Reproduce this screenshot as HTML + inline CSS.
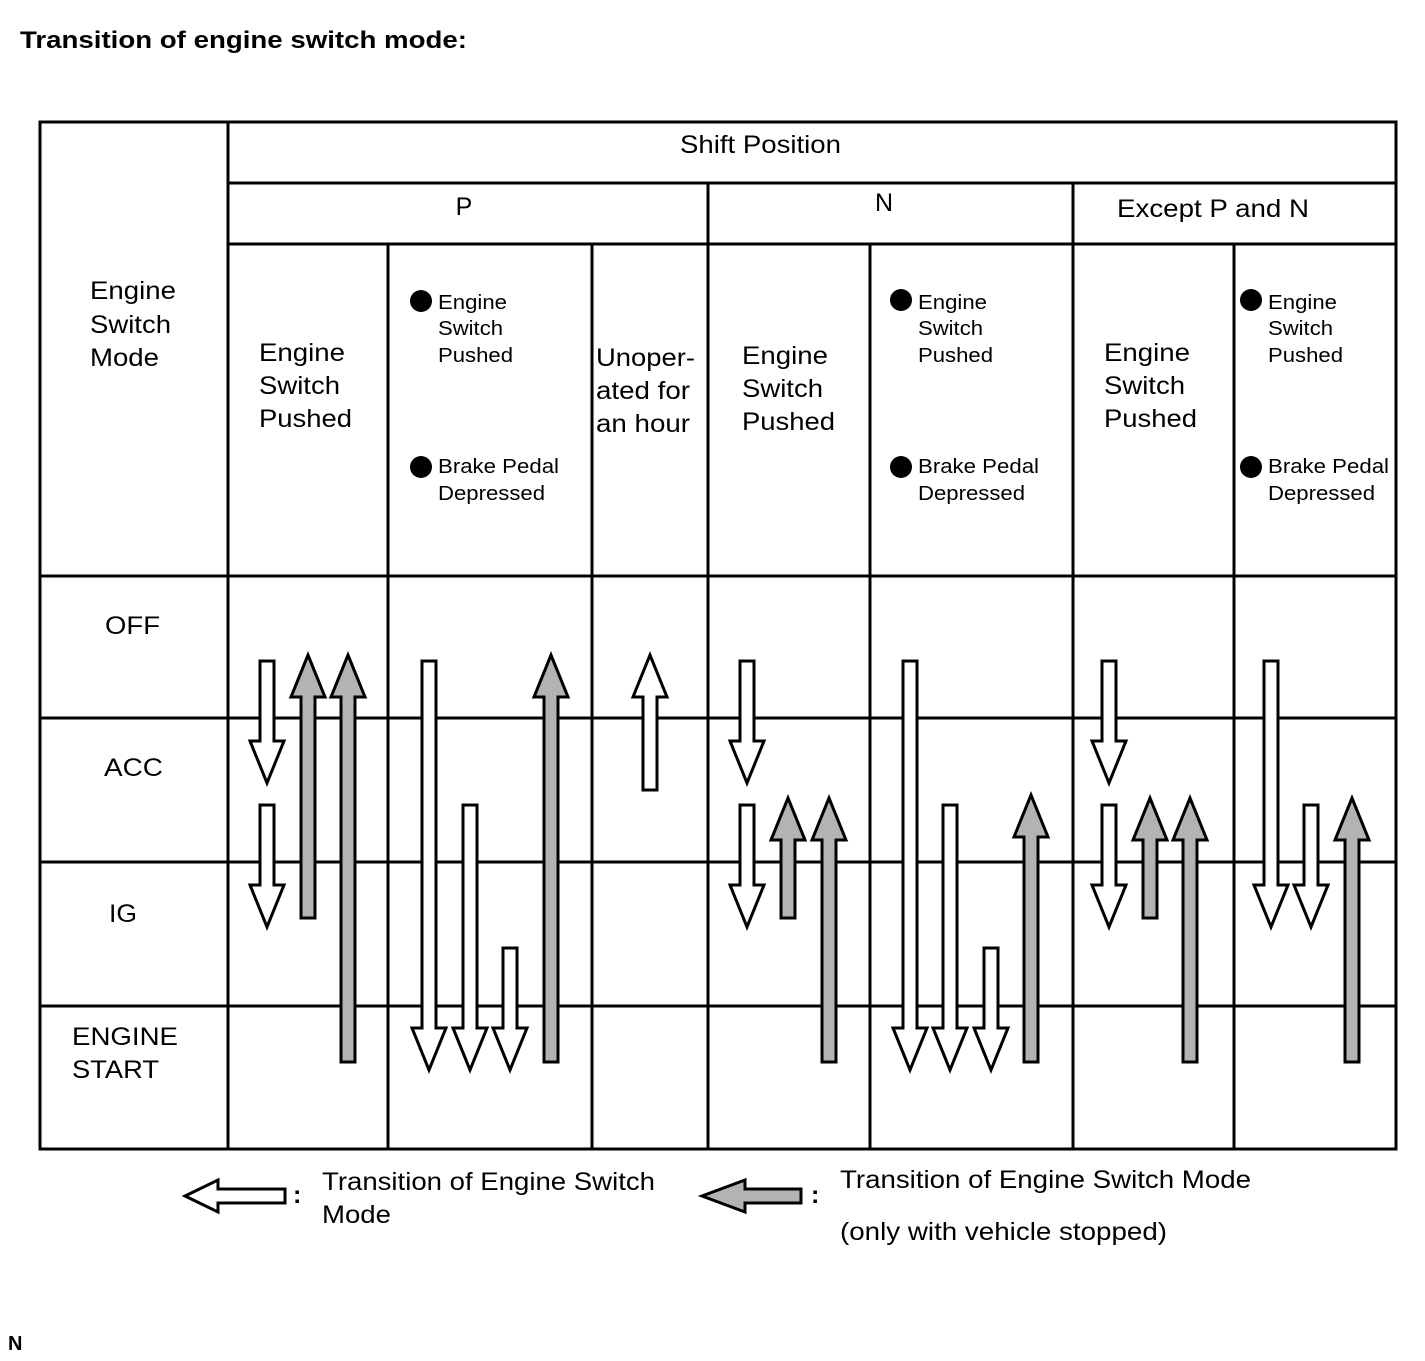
<!DOCTYPE html>
<html><head><meta charset="utf-8"><style>
html,body{margin:0;padding:0;background:#fff;}
svg{display:block;}
text{font-family:"Liberation Sans",Arial,sans-serif;fill:#000;}
.b{font-size:25px;}
.s{font-size:20px;}
</style></head><body>
<svg width="1425" height="1361" viewBox="0 0 1425 1361" xmlns="http://www.w3.org/2000/svg">
<text x="20" y="48" style="font-size:24px;font-weight:bold" textLength="447" lengthAdjust="spacingAndGlyphs">Transition of engine switch mode:</text>
<g stroke="#000" stroke-width="3" fill="none">
<rect x="40" y="122" width="1356" height="1027"/>
<line x1="228" y1="122" x2="228" y2="1149"/>
<line x1="228" y1="183" x2="1396" y2="183"/>
<line x1="228" y1="244" x2="1396" y2="244"/>
<line x1="708" y1="183" x2="708" y2="1149"/>
<line x1="1073" y1="183" x2="1073" y2="1149"/>
<line x1="388" y1="244" x2="388" y2="1149"/>
<line x1="592" y1="244" x2="592" y2="1149"/>
<line x1="870" y1="244" x2="870" y2="1149"/>
<line x1="1234" y1="244" x2="1234" y2="1149"/>
<line x1="40" y1="576" x2="1396" y2="576"/>
<line x1="40" y1="718" x2="1396" y2="718"/>
<line x1="40" y1="862" x2="1396" y2="862"/>
<line x1="40" y1="1006" x2="1396" y2="1006"/>
</g>
<g lengthAdjust="spacingAndGlyphs">
<text class="b" x="680" y="153" textLength="161" lengthAdjust="spacingAndGlyphs">Shift Position</text>
<text class="b" x="464" y="215" text-anchor="middle">P</text>
<text class="b" x="884" y="211" text-anchor="middle">N</text>
<text class="b" x="1117" y="217" textLength="192" lengthAdjust="spacingAndGlyphs">Except P and N</text>
<text class="b"><tspan x="90" y="299" textLength="86" lengthAdjust="spacingAndGlyphs">Engine</tspan><tspan x="90" y="333" textLength="81" lengthAdjust="spacingAndGlyphs">Switch</tspan><tspan x="90" y="366" textLength="69" lengthAdjust="spacingAndGlyphs">Mode</tspan></text>
<text class="b"><tspan x="259" y="361" textLength="86" lengthAdjust="spacingAndGlyphs">Engine</tspan><tspan x="259" y="394" textLength="81" lengthAdjust="spacingAndGlyphs">Switch</tspan><tspan x="259" y="427" textLength="93" lengthAdjust="spacingAndGlyphs">Pushed</tspan></text>
<text class="b"><tspan x="742" y="364" textLength="86" lengthAdjust="spacingAndGlyphs">Engine</tspan><tspan x="742" y="397" textLength="81" lengthAdjust="spacingAndGlyphs">Switch</tspan><tspan x="742" y="430" textLength="93" lengthAdjust="spacingAndGlyphs">Pushed</tspan></text>
<text class="b"><tspan x="1104" y="361" textLength="86" lengthAdjust="spacingAndGlyphs">Engine</tspan><tspan x="1104" y="394" textLength="81" lengthAdjust="spacingAndGlyphs">Switch</tspan><tspan x="1104" y="427" textLength="93" lengthAdjust="spacingAndGlyphs">Pushed</tspan></text>
<text class="b"><tspan x="596" y="366" textLength="99" lengthAdjust="spacingAndGlyphs">Unoper-</tspan><tspan x="596" y="399" textLength="94" lengthAdjust="spacingAndGlyphs">ated for</tspan><tspan x="596" y="432" textLength="94" lengthAdjust="spacingAndGlyphs">an hour</tspan></text>
</g>
<g>
<circle cx="421" cy="301" r="11"/><circle cx="421" cy="467" r="11"/>
<circle cx="901" cy="300" r="11"/><circle cx="901" cy="467" r="11"/>
<circle cx="1251" cy="300" r="11"/><circle cx="1251" cy="467" r="11"/>
</g>
<text class="s"><tspan x="438" y="309" textLength="69" lengthAdjust="spacingAndGlyphs">Engine</tspan><tspan x="438" y="335" textLength="65" lengthAdjust="spacingAndGlyphs">Switch</tspan><tspan x="438" y="362" textLength="75" lengthAdjust="spacingAndGlyphs">Pushed</tspan><tspan x="438" y="473" textLength="121" lengthAdjust="spacingAndGlyphs">Brake Pedal</tspan><tspan x="438" y="500" textLength="107" lengthAdjust="spacingAndGlyphs">Depressed</tspan></text>
<text class="s"><tspan x="918" y="309" textLength="69" lengthAdjust="spacingAndGlyphs">Engine</tspan><tspan x="918" y="335" textLength="65" lengthAdjust="spacingAndGlyphs">Switch</tspan><tspan x="918" y="362" textLength="75" lengthAdjust="spacingAndGlyphs">Pushed</tspan><tspan x="918" y="473" textLength="121" lengthAdjust="spacingAndGlyphs">Brake Pedal</tspan><tspan x="918" y="500" textLength="107" lengthAdjust="spacingAndGlyphs">Depressed</tspan></text>
<text class="s"><tspan x="1268" y="309" textLength="69" lengthAdjust="spacingAndGlyphs">Engine</tspan><tspan x="1268" y="335" textLength="65" lengthAdjust="spacingAndGlyphs">Switch</tspan><tspan x="1268" y="362" textLength="75" lengthAdjust="spacingAndGlyphs">Pushed</tspan><tspan x="1268" y="473" textLength="121" lengthAdjust="spacingAndGlyphs">Brake Pedal</tspan><tspan x="1268" y="500" textLength="107" lengthAdjust="spacingAndGlyphs">Depressed</tspan></text>
<text class="b" x="105" y="634" textLength="55" lengthAdjust="spacingAndGlyphs">OFF</text>
<text class="b" x="104" y="776" textLength="59" lengthAdjust="spacingAndGlyphs">ACC</text>
<text class="b" x="109" y="922" textLength="28" lengthAdjust="spacingAndGlyphs">IG</text>
<text class="b"><tspan x="72" y="1045" textLength="106" lengthAdjust="spacingAndGlyphs">ENGINE</tspan><tspan x="72" y="1078" textLength="87" lengthAdjust="spacingAndGlyphs">START</tspan></text>
<g stroke="#000" stroke-width="3" stroke-linejoin="miter">
<g fill="#fff">
<polygon points="260,661 274,661 274,741 284,741 267,783 250,741 260,741"/>
<polygon points="260,805 274,805 274,885 284,885 267,927 250,885 260,885"/>
<polygon points="422,661 436,661 436,1028 446,1028 429,1070 412,1028 422,1028"/>
<polygon points="463,805 477,805 477,1028 487,1028 470,1070 453,1028 463,1028"/>
<polygon points="503,948 517,948 517,1028 527,1028 510,1070 493,1028 503,1028"/>
<polygon points="643,790 657,790 657,697 667,697 650,655 633,697 643,697"/>
<polygon points="740,661 754,661 754,741 764,741 747,783 730,741 740,741"/>
<polygon points="740,805 754,805 754,885 764,885 747,927 730,885 740,885"/>
<polygon points="903,661 917,661 917,1028 927,1028 910,1070 893,1028 903,1028"/>
<polygon points="943,805 957,805 957,1028 967,1028 950,1070 933,1028 943,1028"/>
<polygon points="984,948 998,948 998,1028 1008,1028 991,1070 974,1028 984,1028"/>
<polygon points="1102,661 1116,661 1116,741 1126,741 1109,783 1092,741 1102,741"/>
<polygon points="1102,805 1116,805 1116,885 1126,885 1109,927 1092,885 1102,885"/>
<polygon points="1264,661 1278,661 1278,885 1288,885 1271,927 1254,885 1264,885"/>
<polygon points="1304,805 1318,805 1318,885 1328,885 1311,927 1294,885 1304,885"/>
<polygon points="285,1189 285,1203 218,1203 218,1212 185,1196 218,1180 218,1189"/>
</g>
<g fill="#b3b3b3">
<polygon points="301,918 315,918 315,697 325,697 308,655 291,697 301,697"/>
<polygon points="341,1062 355,1062 355,697 365,697 348,655 331,697 341,697"/>
<polygon points="544,1062 558,1062 558,697 568,697 551,655 534,697 544,697"/>
<polygon points="781,918 795,918 795,840 805,840 788,798 771,840 781,840"/>
<polygon points="822,1062 836,1062 836,840 846,840 829,798 812,840 822,840"/>
<polygon points="1024,1062 1038,1062 1038,837 1048,837 1031,795 1014,837 1024,837"/>
<polygon points="1143,918 1157,918 1157,840 1167,840 1150,798 1133,840 1143,840"/>
<polygon points="1183,1062 1197,1062 1197,840 1207,840 1190,798 1173,840 1183,840"/>
<polygon points="1345,1062 1359,1062 1359,840 1369,840 1352,798 1335,840 1345,840"/>
<polygon points="801,1189 801,1203 745,1203 745,1212 702,1196 745,1180 745,1189"/>
</g>
</g>
<text class="b" x="293" y="1203" style="font-weight:bold">:</text>
<text class="b" x="811" y="1203" style="font-weight:bold">:</text>
<text class="b"><tspan x="322" y="1190" textLength="333" lengthAdjust="spacingAndGlyphs">Transition of Engine Switch</tspan><tspan x="322" y="1223" textLength="69" lengthAdjust="spacingAndGlyphs">Mode</tspan></text>
<text class="b"><tspan x="840" y="1188" textLength="411" lengthAdjust="spacingAndGlyphs">Transition of Engine Switch Mode</tspan><tspan x="840" y="1240" textLength="327" lengthAdjust="spacingAndGlyphs">(only with vehicle stopped)</tspan></text>
<text x="8" y="1350" style="font-size:20px;font-weight:bold">N</text>
</svg>
</body></html>
